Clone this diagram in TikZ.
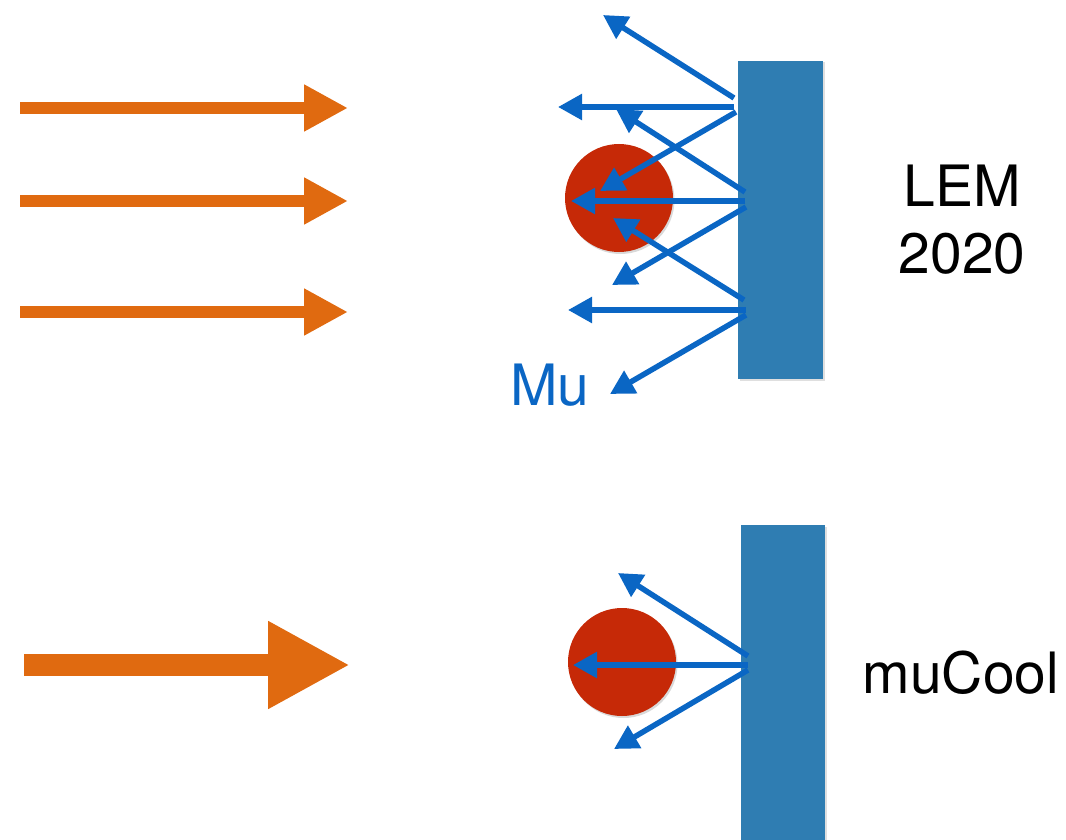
\documentclass[tikz,border=0pt]{standalone}
\usepackage{fontspec}
\setmainfont{TeX Gyre Heros}
\usetikzlibrary{arrows.meta,shadows}
\definecolor{beam}{HTML}{E06A10}
\definecolor{muon}{HTML}{0A66C4}
\definecolor{foil}{HTML}{2F7DB2}
\definecolor{ball}{HTML}{C62907}
\tikzset{
  beamarrow/.style={draw=beam, line width=12.5pt, -{Triangle[length=44pt,width=44pt]}},
  bigbeam/.style={draw=beam, line width=22pt, -{Triangle[length=82pt,width=82pt]}},
  muarrow/.style={draw=muon, line width=5.5pt, -{Triangle[length=24pt,width=25pt]}},
  foilbox/.style={fill=foil, draw=none, drop shadow={opacity=0.25,shadow xshift=1.5pt,shadow yshift=-1.5pt}},
  target/.style={circle, fill=ball, draw=none, minimum size=108pt, inner sep=0pt,
    drop shadow={opacity=0.3,shadow xshift=1.5pt,shadow yshift=-2pt}},
  label/.style={font=\fontsize{57}{67}\selectfont, align=center, inner sep=0pt}
}
\begin{document}
\begin{tikzpicture}[x=1pt,y=-1pt]
\useasboundingbox (0,0) rectangle (1066,840);

% incoming beam, upper setup
\coordinate (b1s) at (20,108);  \coordinate (b1e) at (348,108);
\coordinate (b2s) at (20,201);  \coordinate (b2e) at (348,201);
\coordinate (b3s) at (20,312);  \coordinate (b3e) at (348,312);
\draw[beamarrow] (b1s) -- (b1e);
\draw[beamarrow] (b2s) -- (b2e);
\draw[beamarrow] (b3s) -- (b3e);

% foil and target, upper setup
\path[foilbox] (738,61) rectangle (823,379);
\node[target] (t1) at (619,198) {};

% emitted muons, upper setup
\coordinate (a1) at (734,98);   \coordinate (m1) at (603,15);
\coordinate (a2) at (734,107);  \coordinate (m2) at (558,107);
\coordinate (a3) at (736,112);  \coordinate (m3) at (600,191);
\coordinate (a4) at (745,192);  \coordinate (m4) at (616,109);
\coordinate (a5) at (745,201);  \coordinate (m5) at (571,201);
\coordinate (a6) at (746,207);  \coordinate (m6) at (612,285);
\coordinate (a7) at (744,300);  \coordinate (m7) at (613,218);
\coordinate (a8) at (746,310);  \coordinate (m8) at (568,310);
\coordinate (a9) at (746,315);  \coordinate (m9) at (610,394);
\foreach \i in {1,...,9} \draw[muarrow] (a\i) -- (m\i);

\node[label, text=muon, anchor=base] (mu) at (550,405) {Mu};
\node[label, anchor=base] (lem) at (962,273) {LEM\\2020};

% incoming beam, lower setup
\coordinate (bbs) at (24,665);  \coordinate (bbe) at (350,665);
\draw[bigbeam] (bbs) -- (bbe);

% foil and target, lower setup
\path[foilbox] (741,525) rectangle (825,845);
\node[target] (t2) at (622,662) {};

% emitted muons, lower setup
\coordinate (c1) at (748,656);  \coordinate (n1) at (618,573);
\coordinate (c2) at (748,665);  \coordinate (n2) at (573,665);
\coordinate (c3) at (748,670);  \coordinate (n3) at (614,749);
\foreach \i in {1,2,3} \draw[muarrow] (c\i) -- (n\i);

\node[label, anchor=base] (cool) at (961,693) {muCool};
\end{tikzpicture}
\end{document}
